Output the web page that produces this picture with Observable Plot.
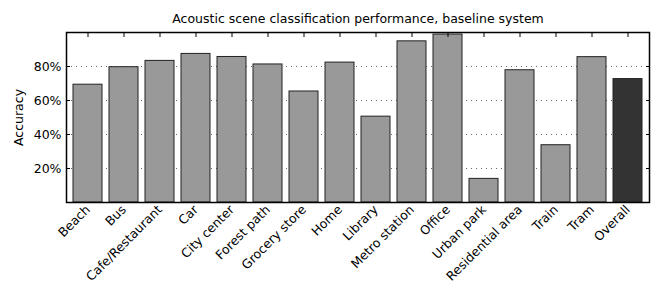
<!DOCTYPE html>
<html><head><meta charset="utf-8">
<script src="https://cdn.jsdelivr.net/npm/d3@7"></script>
<script src="https://cdn.jsdelivr.net/npm/@observablehq/plot@0.6"></script>
<style>body{margin:0;background:#fff;}</style>
</head><body><div id="chart"></div>
<script>
const categories = ["Beach","Bus","Cafe/Restaurant","Car","City center","Forest path","Grocery store","Home","Library","Metro station","Office","Urban park","Residential area","Train","Tram","Overall"];
const accuracy = [69.3,79.6,83.3,87.4,85.6,81.2,65.3,82.3,50.5,94.8,98.8,13.9,77.8,33.7,85.5,72.6];
const yTicks = [20,40,60,80];
const title = "Acoustic scene classification performance, baseline system";
const data = categories.map((c,i)=>({scene:c, acc:accuracy[i], overall: c==="Overall"}));

const chart = Plot.plot({
  width: 655, height: 286,
  marginLeft: 66, marginRight: 6, marginTop: 32, marginBottom: 84,
  style: {fontFamily: "'DejaVu Sans', sans-serif", fontSize: "12px", color: "#000", background: "#fff"},
  x: {domain: categories, paddingInner: 0.2, paddingOuter: 0.1},
  y: {domain: [0, 100]},
  marks: [
    Plot.gridY(yTicks, {stroke: "#000", strokeOpacity: 0.6, strokeDasharray: "1,4"}),
    Plot.barY(data, {x: "scene", y: "acc", fill: d => d.overall ? "#333333" : "#999999", stroke: "#222", strokeWidth: 1}),
    Plot.axisY(yTicks, {anchor: "left", tickSize: -4, tickPadding: 9, tickFormat: d => d + "%", label: "Accuracy", labelAnchor: "center", labelOffset: 52, labelArrow: "none", fontSize: 12.5}),
    Plot.axisY(yTicks, {anchor: "right", tickSize: -4, tickFormat: () => "", label: null}),
    Plot.axisX({anchor: "top", tickSize: -4, tickFormat: () => "", label: null}),
    Plot.axisX({anchor: "bottom", tickSize: 0, tickPadding: 5, tickRotate: -45, label: null, fontSize: 12.5}),
    Plot.frame({stroke: "#000", strokeWidth: 1.5}),
    Plot.text([title], {frameAnchor: "top", dy: -18, fontSize: 12.5})
  ]
});
document.getElementById("chart").appendChild(chart);
</script>
</body></html>
